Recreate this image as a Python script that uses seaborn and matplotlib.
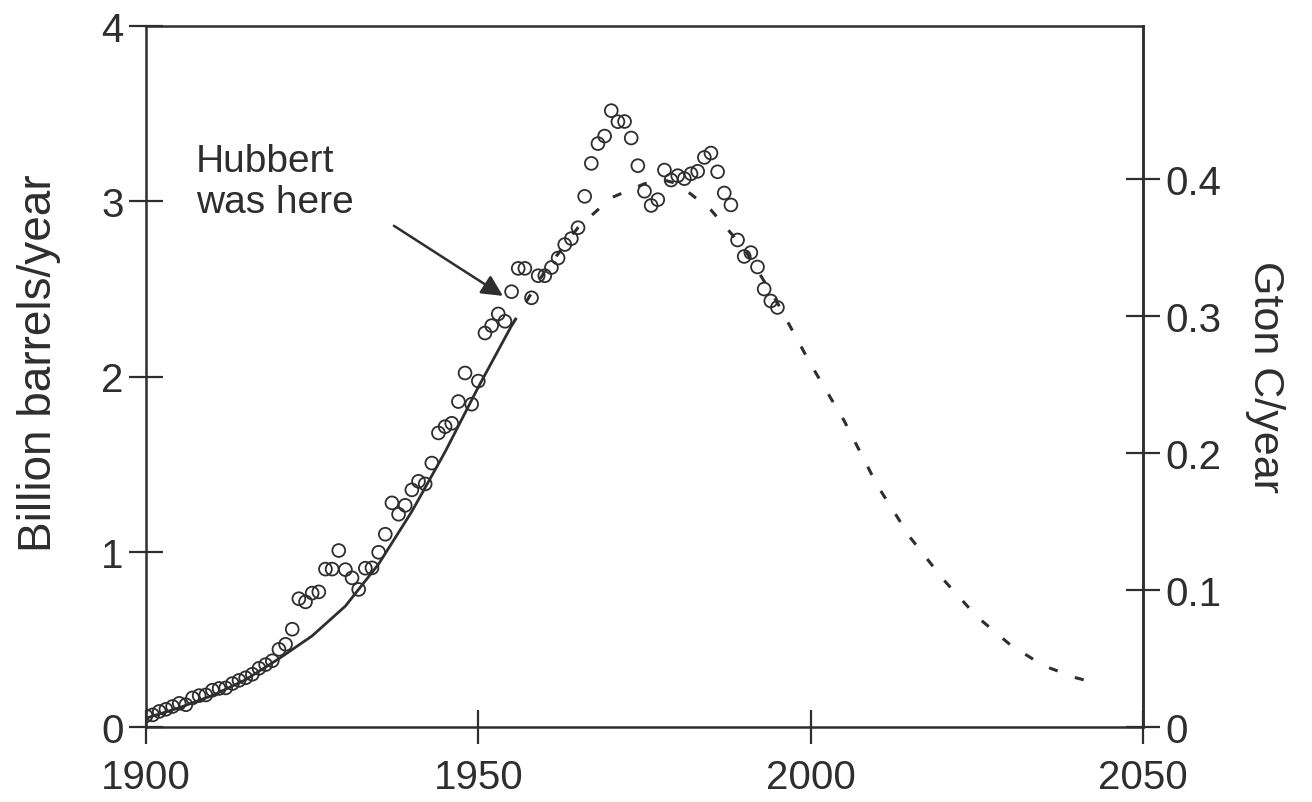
import matplotlib
matplotlib.use("Agg")
import matplotlib.pyplot as plt
from matplotlib import font_manager
import seaborn as sns
import pandas as pd

# ---------------- data ----------------
obs_years = list(range(1900, 1996))
obs_production = [
    0.064, 0.069, 0.089, 0.101, 0.117, 0.135, 0.127, 0.166, 0.179, 0.183,   # 1900-1909
    0.210, 0.220, 0.223, 0.248, 0.266, 0.281, 0.301, 0.335, 0.356, 0.378,   # 1910-1919
    0.443, 0.472, 0.558, 0.732, 0.714, 0.764, 0.771, 0.901, 0.901, 1.007,   # 1920-1929
    0.898, 0.851, 0.785, 0.906, 0.908, 0.997, 1.100, 1.279, 1.214, 1.265,   # 1930-1939
    1.353, 1.402, 1.387, 1.506, 1.678, 1.714, 1.733, 1.857, 2.020, 1.842,   # 1940-1949
    1.974, 2.248, 2.290, 2.357, 2.315, 2.484, 2.617, 2.617, 2.449, 2.575,   # 1950-1959
    2.575, 2.622, 2.676, 2.753, 2.787, 2.849, 3.028, 3.216, 3.329, 3.372,   # 1960-1969
    3.517, 3.454, 3.455, 3.361, 3.203, 3.057, 2.976, 3.009, 3.178, 3.121,   # 1970-1979
    3.146, 3.129, 3.157, 3.171, 3.250, 3.275, 3.168, 3.047, 2.979, 2.779,   # 1980-1989
    2.685, 2.707, 2.625, 2.499, 2.431, 2.394,                               # 1990-1995
]

fit_years = [1900, 1905, 1910, 1915, 1920, 1925, 1930, 1935, 1940, 1945, 1950, 1955]
fit_values = [0.05, 0.11, 0.18, 0.27, 0.39, 0.52, 0.69, 0.93, 1.23, 1.57, 1.94, 2.29]

proj_years = [1955, 1960, 1965, 1970, 1975, 1978, 1980, 1985, 1990, 1995,
              2000, 2005, 2010, 2015, 2020, 2025, 2030, 2035, 2040, 2042]
proj_values = [2.29, 2.60, 2.85, 3.02, 3.10, 3.12, 3.10, 2.95, 2.73, 2.42,
               2.07, 1.75, 1.38, 1.08, 0.84, 0.63, 0.47, 0.35, 0.28, 0.26]

x_ticks = [1900, 1950, 2000, 2050]
y_ticks_left = [0, 1, 2, 3, 4]
y_ticks_right = [0, 0.1, 0.2, 0.3, 0.4]
y_ticklabels_right = ["0", "0.1", "0.2", "0.3", "0.4"]
gton_per_billion_bbl = 0.128

left_label = "Billion barrels/year"
right_label = "Gton C/year"
note_text = "Hubbert\nwas here"

# ---------------- style ----------------
sns.set_theme(style="ticks")
names = {f.name for f in font_manager.fontManager.ttflist}
family = "Liberation Sans Narrow" if "Liberation Sans Narrow" in names else "Liberation Sans"
plt.rcParams["font.family"] = [family, "DejaVu Sans"]
ink = "#2e2e2e"

fig = plt.figure(figsize=(13.12, 8.03), dpi=100)
fig.patch.set_facecolor("white")
ax = fig.add_axes([146 / 1312, 75 / 803, 997 / 1312, 701 / 803])
ax.set_facecolor("white")

obs = pd.DataFrame({"year": obs_years, "prod": obs_production})
fit = pd.DataFrame({"year": fit_years, "prod": fit_values})
proj = pd.DataFrame({"year": proj_years, "prod": proj_values})

sns.lineplot(data=fit, x="year", y="prod", ax=ax, color=ink, linewidth=2.0)
sns.lineplot(data=proj, x="year", y="prod", ax=ax, color=ink, linewidth=2.2,
             linestyle=(0, (3, 6)))
sns.scatterplot(data=obs, x="year", y="prod", ax=ax, marker="o", s=85,
                facecolors="none", edgecolor=ink, linewidth=1.3, zorder=3)

ax.set_xlim(1900, 2050)
ax.set_ylim(0, 4)
ax.set_xticks(x_ticks)
ax.set_yticks(y_ticks_left)
ax.set_xticklabels([str(v) for v in x_ticks])
ax.set_yticklabels([str(v) for v in y_ticks_left])
ax.set_xlabel("")
ax.set_ylabel(left_label, fontsize=33, color=ink)
ax.yaxis.set_label_coords(-0.085, 0.52)

for s in ax.spines.values():
    s.set_visible(True)
    s.set_color(ink)
    s.set_linewidth(1.8)

ax.tick_params(axis="both", direction="inout", length=24, width=1.6, color=ink,
               labelcolor=ink, labelsize=29, left=True, bottom=True)
ax.tick_params(axis="y", pad=4)
ax.tick_params(axis="x", pad=10)

sec = ax.secondary_yaxis("right", functions=(lambda v: v * gton_per_billion_bbl,
                                             lambda g: g / gton_per_billion_bbl))
sec.set_yticks(y_ticks_right)
sec.set_yticklabels(y_ticklabels_right)
sec.tick_params(direction="inout", length=24, width=1.6, color=ink,
                labelcolor=ink, labelsize=29, pad=4)
sec.spines["right"].set_color(ink)
sec.spines["right"].set_linewidth(1.8)
sec.set_ylabel(right_label, fontsize=31, color=ink, rotation=270, labelpad=46)

ax.text(1907.5, 3.33, note_text, ha="left", va="top", fontsize=28, color=ink,
        linespacing=1.15)
ax.annotate("", xy=(1953.7, 2.46), xytext=(1937.3, 2.86),
            arrowprops=dict(arrowstyle="-|>", color=ink, lw=1.8,
                            mutation_scale=32, shrinkA=0, shrinkB=0))

fig.savefig("out.png", dpi=100, facecolor="white")
